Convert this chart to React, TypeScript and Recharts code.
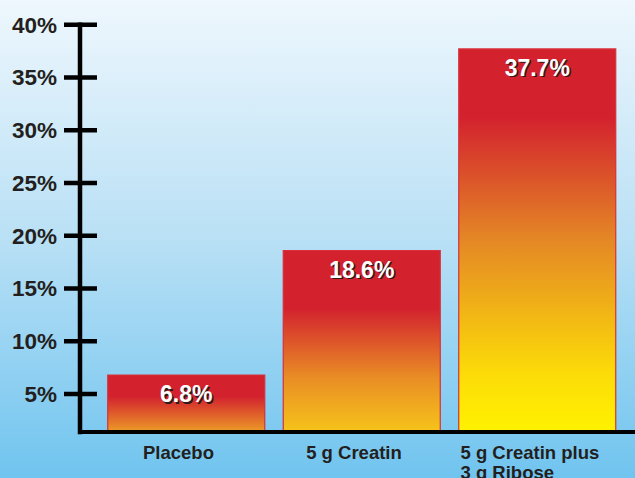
import { BarChart, Bar, XAxis, YAxis, Cell, LabelList } from 'recharts';

const categories = ['Placebo', '5 g Creatin', '5 g Creatin plus\n3 g Ribose'];
const values = [6.8, 18.6, 37.7];
const yTicks = [5, 10, 15, 20, 25, 30, 35, 40];

const data = categories.map((name, i) => ({ name, value: values[i] }));

// per-bar vertical gradients (red top -> orange/yellow bottom)
const barGradients = [
  [['0%', '#d3222e'], ['38%', '#d3222e'], ['100%', '#ec9c27']],
  [['0%', '#d3222e'], ['32%', '#d3222e'], ['70%', '#e98d25'], ['100%', '#f6c41a']],
  [['0%', '#d3222e'], ['18%', '#d3222e'], ['50%', '#e48825'], ['85%', '#fcdc08'], ['100%', '#fff200']],
];

const FONT = '"Liberation Sans", Arial, Helvetica, sans-serif';

function YTick(props: any) {
  const { y, payload } = props;
  return (
    <g>
      <line x1={64} x2={97} y1={y} y2={y} stroke="#000" strokeWidth={4.5} />
      <text x={57} y={y} dy={8} textAnchor="end" fontSize={22.5} fontWeight="bold" fill="#231f20" fontFamily={FONT}>
        {payload.value}%
      </text>
    </g>
  );
}

function XTick(props: any) {
  const { x, y, payload } = props;
  const lines = String(payload.value).split('\n');
  const multi = lines.length > 1;
  const tx = multi ? x - 77 : x - 8;
  return (
    <text
      x={tx}
      y={y + 26.5}
      textAnchor={multi ? 'start' : 'middle'}
      fontSize={18.5}
      fontWeight="bold"
      fill="#231f20"
      fontFamily={FONT}
    >
      {lines.map((line, i) => (
        <tspan key={i} x={tx} dy={i === 0 ? 0 : 20}>
          {line}
        </tspan>
      ))}
    </text>
  );
}

function BarLabel(props: any) {
  const { x, y, width, value } = props;
  const cx = x + width / 2;
  const ty = y + 27;
  return (
    <g fontSize={23} fontWeight="bold" fontFamily={FONT} textAnchor="middle">
      <text x={cx + 1.5} y={ty + 1.5} fill="#2e1a1a">{value}%</text>
      <text x={cx} y={ty} fill="#ffffff">{value}%</text>
    </g>
  );
}

export default function App() {
  return (
    <div
      style={{
        width: 635,
        height: 478,
        background: 'linear-gradient(to bottom, #eef7fd 0%, #b9e0f5 50%, #70c4ef 100%)',
        overflow: 'hidden',
      }}
    >
      <style>{`body { margin: 0; }`}</style>
      <BarChart width={635} height={478} data={data} margin={{ top: 24.7, right: 0, bottom: 0, left: 0 }}>
        <defs>
          {barGradients.map((stops, i) => (
            <linearGradient key={i} id={`barGrad${i}`} x1="0" y1="0" x2="0" y2="1">
              {stops.map(([off, col]) => (
                <stop key={off} offset={off} stopColor={col} />
              ))}
            </linearGradient>
          ))}
        </defs>
        <XAxis
          dataKey="name"
          height={46}
          padding={{ left: 18.75, right: 9.75 }}
          axisLine={{ stroke: '#000', strokeWidth: 4, strokeLinecap: 'square' }}
          tickLine={false}
          tickSize={0}
          tickMargin={0}
          interval={0}
          tick={<XTick />}
        />
        <YAxis
          width={80}
          domain={[1.4, 40]}
          allowDataOverflow
          ticks={yTicks}
          axisLine={{ stroke: '#000', strokeWidth: 4.5, strokeLinecap: 'square' }}
          tickLine={false}
          tick={<YTick />}
        />
        <Bar dataKey="value" barSize={157} stroke="#d8303a" strokeWidth={1.2} isAnimationActive={false}>
          {data.map((_, i) => (
            <Cell key={i} fill={`url(#barGrad${i})`} />
          ))}
          <LabelList dataKey="value" content={<BarLabel />} />
        </Bar>
      </BarChart>
    </div>
  );
}
